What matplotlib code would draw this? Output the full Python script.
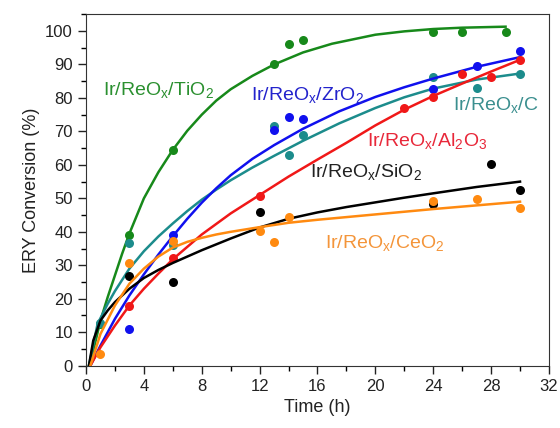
import numpy as np
import matplotlib
matplotlib.use("Agg")
import matplotlib.pyplot as plt
from matplotlib import ticker

plt.rcParams['font.family'] = ['Liberation Sans', 'DejaVu Sans']
plt.rcParams['mathtext.fontset'] = 'custom'
plt.rcParams['mathtext.rm'] = 'Liberation Sans'

# measured points (time h, conversion %)
tio2_t = [1, 3, 6, 13, 14, 15, 24, 26, 29]
tio2_v = [12.5, 39, 64.5, 90, 96.2, 97.2, 99.7, 99.7, 99.6]
zro2_t = [3, 6, 13, 14, 15, 24, 27, 30]
zro2_v = [10.9, 39, 70.4, 74.3, 73.8, 82.8, 89.6, 94.0]
c_t = [1, 3, 6, 13, 14, 15, 24, 27, 30]
c_v = [12.7, 36.7, 36, 71.6, 62.9, 68.9, 86.2, 83.0, 87.2]
al2o3_t = [3, 6, 12, 22, 24, 26, 28, 30]
al2o3_v = [17.8, 32.1, 50.7, 77.0, 80.4, 87.2, 86.2, 91.4]
sio2_t = [3, 6, 12, 24, 28, 30]
sio2_v = [26.8, 25.1, 45.9, 48.2, 60.4, 52.4]
ceo2_t = [1, 3, 6, 12, 13, 14, 24, 27, 30]
ceo2_v = [3.4, 30.7, 37.3, 40.3, 37.0, 44.5, 49.2, 49.8, 47.0]

# fitted curves
tio2_ft = [0.2, 0.5, 1, 1.5, 2, 2.5, 3, 4, 5, 6, 7, 8, 9, 10, 11.5, 13, 15, 17, 20, 22, 24, 26, 29]
tio2_fv = [0, 4.5, 13.5, 20.5, 27, 33.5, 39.5, 50, 57.8, 64.5, 70.2, 75, 79.2, 82.6, 86.6, 90.0,
           93.6, 96.2, 98.9, 99.9, 100.6, 101.0, 101.3]
zro2_ft = [0.3, 1, 2, 3, 4, 5, 6, 7, 8, 9, 10, 11.5, 13, 15, 17.5, 20, 22, 24, 27, 30]
zro2_fv = [0, 6, 14, 21, 27.3, 33.2, 38.7, 43.9, 48.7, 53.0, 56.9, 61.8, 65.9, 70.8, 76.0, 80.3,
           83.2, 85.8, 89.3, 92.2]
c_ft = [0.2, 0.8, 1.5, 2, 3, 4, 5, 6, 7, 8, 9, 10, 11.5, 13, 15, 17.5, 20, 22, 24, 27, 30]
c_fv = [0, 12.5, 18.5, 22.3, 29, 34.2, 38.6, 42.5, 46.2, 49.6, 52.6, 55.4, 59.2, 62.7, 67.2, 72.4,
        77, 80.2, 82.8, 85.5, 87.3]
al2o3_ft = [0.3, 1, 2, 3, 4, 5, 6, 8, 10, 12, 14, 16, 18, 20, 22, 24, 26, 28, 30]
al2o3_fv = [0, 5.5, 12, 18, 23, 27.5, 31.8, 39.2, 45.5, 51, 56.5, 61.6, 66.6, 71.8, 76.5, 80.6,
            84.3, 87.9, 91.4]
sio2_ft = [0.2, 0.5, 1, 1.5, 2, 3, 4, 5, 6, 7, 8, 10, 12, 14, 16, 18, 20, 22, 24, 27, 30]
sio2_fv = [0, 7.5, 13.5, 16.5, 19, 23, 26.2, 28.6, 30.7, 32.6, 34.5, 38, 41.3, 43.9, 45.8, 47.4,
           48.8, 50.2, 51.5, 53.4, 55]
ceo2_ft = [0.3, 1, 2, 3, 4, 5, 6, 7, 8, 9, 10, 12, 14, 16, 20, 24, 27, 30]
ceo2_fv = [0, 9.5, 18, 24.5, 29, 32.6, 35.3, 37, 38.2, 39.2, 40, 41.4, 42.7, 43.6, 45.2, 46.8,
           47.9, 49]

series = [
    (tio2_t, tio2_v, tio2_ft, tio2_fv, "#17891a"),
    (c_t, c_v, c_ft, c_fv, "#1c8c8c"),
    (zro2_t, zro2_v, zro2_ft, zro2_fv, "#1010ee"),
    (al2o3_t, al2o3_v, al2o3_ft, al2o3_fv, "#f01818"),
    (sio2_t, sio2_v, sio2_ft, sio2_fv, "#000000"),
    (ceo2_t, ceo2_v, ceo2_ft, ceo2_fv, "#ff8a10"),
]

fig = plt.figure(figsize=(5.6, 4.28), dpi=100)
ax = fig.add_axes([0.1536, 0.1456, 0.8267, 0.8210])

for t, v, ft, fv, col in series:
    ax.plot(t, v, "o", color=col, markersize=6.5, markeredgewidth=0)
    ax.plot(ft, fv, "-", color=col, lw=1.8, solid_joinstyle="round")

ax.set_xlim(0, 32)
ax.set_ylim(0, 105)
ax.xaxis.set_major_locator(ticker.MultipleLocator(4))
ax.xaxis.set_minor_locator(ticker.MultipleLocator(2))
ax.yaxis.set_major_locator(ticker.MultipleLocator(10))
ax.yaxis.set_minor_locator(ticker.MultipleLocator(5))
ax.tick_params(which="major", direction="out", length=6, width=1, labelsize=12, colors="#222222")
ax.tick_params(which="minor", direction="out", length=3.5, width=1)
for s in ax.spines.values():
    s.set_color("#333333")

ax.set_xlabel("Time (h)", fontsize=13, color="#222222")
ax.set_ylabel("ERY Conversion (%)", fontsize=13, color="#222222")

sub = lambda s: r"$_\mathregular{%s}$" % s
lbl = dict(fontsize=14, va="center", ha="left")
ax.text(1.2, 82, "Ir/ReO" + sub("x") + "/TiO" + sub("2"), color="#2b9030", **lbl)
ax.text(11.4, 80.5, "Ir/ReO" + sub("x") + "/ZrO" + sub("2"), color="#2323cc", **lbl)
ax.text(25.4, 77.5, "Ir/ReO" + sub("x") + "/C", color="#3b8f8f", **lbl)
ax.text(19.4, 67, "Ir/ReO" + sub("x") + "/Al" + sub("2") + "O" + sub("3"), color="#e8283a", **lbl)
ax.text(15.5, 57.5, "Ir/ReO" + sub("x") + "/SiO" + sub("2"), color="#222222", **lbl)
ax.text(16.5, 36.5, "Ir/ReO" + sub("x") + "/CeO" + sub("2"), color="#f4953a", **lbl)

plt.savefig("out.png", dpi=100)
